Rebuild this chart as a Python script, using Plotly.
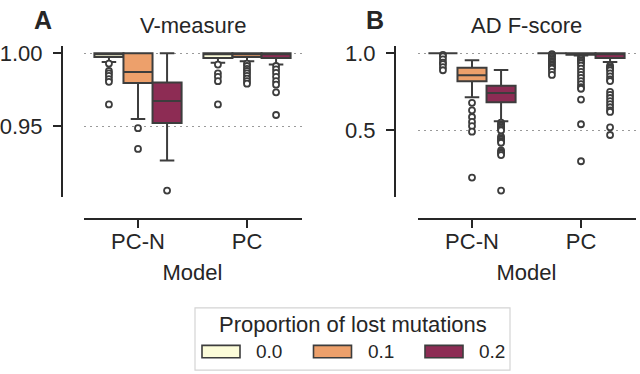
import plotly.graph_objects as go

# ---------------- data ----------------
MODELS = ["PC-N", "PC"]
PROPORTIONS = ["0.0", "0.1", "0.2"]
COLORS = ["#FCFCD9", "#EDA06B", "#8D2C54"]
METRIC_TITLES = ["V-measure", "AD F-score"]
PANEL_LETTERS = ["A", "B"]
Y_TICKS = [[0.95, 1.00], [0.5, 1.0]]
Y_TICK_FORMAT = [".2f", ".1f"]

# V-measure box statistics, indexed [model][proportion]
VM_Q1 = [[0.9975, 0.9796, 0.9523], [0.9968, 0.9975, 0.9968]]
VM_MEDIAN = [[1.0, 0.9872, 0.9673], [1.0, 1.0, 1.0]]
VM_Q3 = [[1.0, 1.0, 0.9800], [1.0, 1.0, 1.0]]
VM_LOWER = [[0.9940, 0.9550, 0.9267], [0.9935, 0.9946, 0.9923]]
VM_UPPER = [[1.0, 1.0, 1.0], [1.0, 1.0, 1.0]]
VM_OUTLIERS = [
    [[0.9930, 0.9879, 0.9863, 0.9845, 0.9823, 0.9805, 0.9650],
     [0.9488, 0.9346],
     [0.9061]],
    [[0.9923, 0.9863, 0.9839, 0.9809, 0.9650],
     [0.9930, 0.9913, 0.9894, 0.9879, 0.9863, 0.9845, 0.9827, 0.9809, 0.9792],
     [0.9913, 0.9890, 0.9866, 0.9839, 0.9809, 0.9785, 0.9733, 0.9578]],
]

# AD F-score box statistics, indexed [model][proportion]
AD_Q1 = [[1.0, 0.818, 0.683], [1.0, 0.990, 0.970]]
AD_MEDIAN = [[1.0, 0.857, 0.742], [1.0, 1.0, 1.0]]
AD_Q3 = [[1.0, 0.906, 0.789], [1.0, 1.0, 1.0]]
AD_LOWER = [[1.0, 0.715, 0.560], [1.0, 0.985, 0.943]]
AD_UPPER = [[1.0, 0.955, 0.891], [1.0, 1.0, 1.0]]
AD_OUTLIERS = [
    [[0.99, 0.98, 0.96, 0.94, 0.93, 0.91, 0.89],
     [0.679, 0.630, 0.587, 0.555, 0.528, 0.492, 0.194],
     [0.55, 0.54, 0.53, 0.52, 0.51, 0.50, 0.46, 0.45, 0.44, 0.43, 0.42,
      0.37, 0.36, 0.35, 0.34, 0.11]],
    [[0.995, 0.99, 0.98, 0.97, 0.96, 0.95, 0.94, 0.93, 0.92, 0.91, 0.90, 0.88, 0.86],
     [0.975, 0.965, 0.955, 0.945, 0.935, 0.92, 0.90, 0.88, 0.86, 0.84, 0.82,
      0.80, 0.78, 0.77, 0.70, 0.54, 0.30],
     [0.92, 0.91, 0.90, 0.89, 0.87, 0.85, 0.83, 0.82, 0.75, 0.73, 0.71, 0.69,
      0.67, 0.65, 0.63, 0.62, 0.52, 0.47]],
]

PANELS = [
    dict(q1=VM_Q1, med=VM_MEDIAN, q3=VM_Q3, lo=VM_LOWER, hi=VM_UPPER, out=VM_OUTLIERS),
    dict(q1=AD_Q1, med=AD_MEDIAN, q3=AD_Q3, lo=AD_LOWER, hi=AD_UPPER, out=AD_OUTLIERS),
]

# ---------------- layout constants ----------------
W, H = 640, 374
FONT = "Liberation Sans"
TXT = "#262626"
LINE = "#3d3d3d"
FS = 22

def px(x):
    return x / W

def py(y):
    return 1 - y / H

X_DOMAINS = [[px(83.5), px(301.5)], [px(417.5), px(635.5)]]
Y_DOMAIN = [py(195), py(42)]
Y_AXIS_POS = [px(62), px(395)]
X_AXIS_POS = py(217)

n_hue = len(PROPORTIONS)
box_w = 0.8 / n_hue

fig = go.Figure()

for p, panel in enumerate(PANELS):
    xa = "x" if p == 0 else "x2"
    ya = "y" if p == 0 else "y2"
    all_vals = []
    for m, model in enumerate(MODELS):
        for h, prop in enumerate(PROPORTIONS):
            pos = m + (h - (n_hue - 1) / 2) * box_w
            fig.add_trace(go.Box(
                x=[pos], q1=[panel["q1"][m][h]], median=[panel["med"][m][h]],
                q3=[panel["q3"][m][h]], lowerfence=[panel["lo"][m][h]],
                upperfence=[panel["hi"][m][h]], orientation="v",
                width=box_w, whiskerwidth=0.5, boxpoints=False,
                fillcolor=COLORS[h], line=dict(color=LINE, width=2),
                xaxis=xa, yaxis=ya, showlegend=False, name=prop,
            ))
            outs = panel["out"][m][h]
            fig.add_trace(go.Scatter(
                x=[pos] * len(outs), y=outs, mode="markers",
                marker=dict(symbol="circle", size=6, color="white",
                            line=dict(color=LINE, width=1.8)),
                xaxis=xa, yaxis=ya, showlegend=False, hoverinfo="y",
            ))
            all_vals += outs + [panel["lo"][m][h], panel["hi"][m][h]]
    lo_v, hi_v = min(all_vals), max(all_vals)
    pad = (hi_v - lo_v) * 0.05
    yrange = [lo_v - pad, hi_v + pad]

    xkey = "xaxis" if p == 0 else "xaxis2"
    ykey = "yaxis" if p == 0 else "yaxis2"
    fig.update_layout(**{
        xkey: dict(
            domain=X_DOMAINS[p], range=[-0.5, 1.5], anchor="free",
            position=X_AXIS_POS, tickvals=list(range(len(MODELS))),
            ticktext=MODELS, showgrid=False, zeroline=False,
            showline=True, linecolor=TXT, linewidth=2,
            ticks="outside", ticklen=8, tickwidth=1.5, tickcolor=TXT,
            ticklabelstandoff=-5,
            tickfont=dict(family=FONT, size=FS, color=TXT),
            title=dict(text="Model", standoff=10,
                       font=dict(family=FONT, size=FS, color=TXT)),
            fixedrange=True,
        ),
        ykey: dict(
            domain=Y_DOMAIN, range=yrange, anchor="free",
            position=Y_AXIS_POS[p], tickvals=Y_TICKS[p],
            tickformat=Y_TICK_FORMAT[p],
            showgrid=True, gridcolor="#9a9a9a", gridwidth=1.2,
            griddash="2px,4px", zeroline=False,
            showline=True, linecolor=TXT, linewidth=2,
            ticks="outside", ticklen=8, tickwidth=1.5, tickcolor=TXT,
            ticklabelstandoff=6,
            tickfont=dict(family=FONT, size=FS, color=TXT),
            fixedrange=True,
        ),
    })

annotations = []
for p in range(2):
    cx = (X_DOMAINS[p][0] + X_DOMAINS[p][1]) / 2
    annotations.append(dict(
        text=METRIC_TITLES[p], x=cx, y=py(21), xref="paper", yref="paper",
        xanchor="center", yanchor="middle", showarrow=False,
        font=dict(family=FONT, size=FS, color=TXT)))
annotations.append(dict(text="<b>A</b>", x=px(42.5), y=py(15), xref="paper",
                        yref="paper", xanchor="center", yanchor="middle",
                        showarrow=False, font=dict(family=FONT, size=25, color=TXT)))
annotations.append(dict(text="<b>B</b>", x=px(375), y=py(15), xref="paper",
                        yref="paper", xanchor="center", yanchor="middle",
                        showarrow=False, font=dict(family=FONT, size=25, color=TXT)))

# ---------------- manual legend ----------------
shapes = [dict(type="rect", xref="paper", yref="paper",
               x0=px(195), x1=px(510), y0=py(370), y1=py(307),
               line=dict(color="#d4d4d4", width=1.2), fillcolor="white", layer="below")]
annotations.append(dict(text="Proportion of lost mutations", x=px(352.5), y=py(324),
                        xref="paper", yref="paper", xanchor="center", yanchor="middle",
                        showarrow=False, font=dict(family=FONT, size=FS, color=TXT)))
for h, prop in enumerate(PROPORTIONS):
    x0 = 202 + h * 111.5
    shapes.append(dict(type="rect", xref="paper", yref="paper",
                       x0=px(x0), x1=px(x0 + 38), y0=py(357.5), y1=py(345),
                       line=dict(color=LINE, width=1.6), fillcolor=COLORS[h]))
    annotations.append(dict(text=prop, x=px(x0 + 52), y=py(351.5), xref="paper",
                            yref="paper", xanchor="left", yanchor="middle",
                            showarrow=False, font=dict(family=FONT, size=19, color=TXT)))

fig.update_layout(
    width=W, height=H, margin=dict(l=0, r=0, t=0, b=0),
    paper_bgcolor="white", plot_bgcolor="white",
    boxmode="overlay", showlegend=False,
    annotations=annotations, shapes=shapes,
    font=dict(family=FONT, color=TXT),
)

fig.write_html("out.html")
